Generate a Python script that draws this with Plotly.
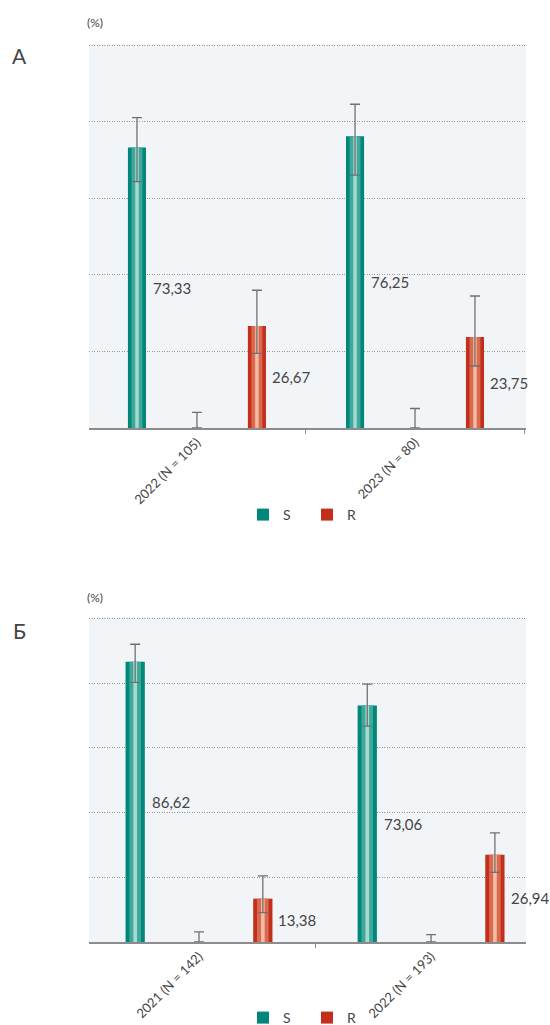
import plotly.graph_objects as go

# ---------------- data ----------------
cats_a = ["2022 (N = 105)", "2023 (N = 80)"]
s_a = [73.33, 76.25]
s_a_hi = [81.1, 84.6]
s_a_lo = [64.4, 66.1]
i_a = [0, 0]
i_a_hi = [4.1, 5.1]
r_a = [26.67, 23.75]
r_a_hi = [36.0, 34.5]
r_a_lo = [19.5, 16.2]

cats_b = ["2021 (N = 142)", "2022 (N = 193)"]
s_b = [86.62, 73.06]
s_b_hi = [92.0, 79.7]
s_b_lo = [80.2, 66.7]
i_b = [0, 0]
i_b_hi = [3.1, 2.3]
r_b = [13.38, 26.94]
r_b_hi = [20.4, 33.7]
r_b_lo = [9.1, 21.5]

series_names = ["S", "I", "R"]
y_ticks = [0, 20, 40, 60, 80, 100]

# ---------------- style ----------------
FONT = "Lato"
TXT = "#444444"
TEAL = ["#00877a", "#3ea89b", "#a6d7d0"]
RED = ["#c22f1b", "#d96a50", "#f1bca5"]
CLEAR = ["rgba(0,0,0,0)"] * 3
LAYER_W = [0.083, 0.05, 0.016]
BARGAP = 0.175
ERR_COLOR = "#707070"
Y_TOP = 100.35

fig = go.Figure()


def add_panel(cats, vals, his, los, xa, ya, legend):
    palettes = [TEAL, CLEAR, RED]
    for k, name in enumerate(series_names):
        v = vals[k]
        plus = [h - x for h, x in zip(his[k], v)]
        minus = [x - l for x, l in zip(v, los[k])]
        for j, w in enumerate(LAYER_W):
            last = j == len(LAYER_W) - 1
            fig.add_trace(go.Bar(
                x=cats, y=v, name=name, xaxis=xa, yaxis=ya,
                offsetgroup=name, width=w,
                marker=dict(color=palettes[k][j], line=dict(width=0)),
                showlegend=(j == 0 and name != "I"), legend=legend,
                hoverinfo="skip",
                error_y=dict(type="data", array=plus, arrayminus=minus,
                             visible=last, color=ERR_COLOR,
                             thickness=1.3, width=5),
            ))


add_panel(cats_a, [s_a, i_a, r_a],
          [s_a_hi, i_a_hi, r_a_hi], [s_a_lo, i_a, r_a_lo],
          "x", "y", "legend")
add_panel(cats_b, [s_b, i_b, r_b],
          [s_b_hi, i_b_hi, r_b_hi], [s_b_lo, i_b, r_b_lo],
          "x2", "y2", "legend2")

slot = (1 - BARGAP) / 3
annotations = []


def fmt(v):
    return f"{v:.2f}".replace(".", ",")


for cats, svals, rvals, xr, yr in [(cats_a, s_a, r_a, "x", "y"),
                                   (cats_b, s_b, r_b, "x2", "y2")]:
    for i in range(len(cats)):
        for vals, k, sh in [(svals, 0, 5), (rvals, 2, 4)]:
            annotations.append(dict(
                x=i + (k - 1) * slot + LAYER_W[0] / 2, y=vals[i] / 2,
                xref=xr, yref=yr, text=fmt(vals[i]), showarrow=False,
                xanchor="left", yanchor="middle", xshift=sh,
                font=dict(family=FONT, size=15, color=TXT)))

L, R, T, B = 89, 24, 44, 83
W, H = 550, 1025
pw, ph = W - L - R, H - T - B

for letter, ly, uy in [("А", 55, 22.7), ("Б", 630, 597)]:
    annotations.append(dict(x=(19 - L) / pw, y=(H - B - ly) / ph,
                            xref="paper", yref="paper", text=letter,
                            showarrow=False, xanchor="center",
                            yanchor="middle",
                            font=dict(family=FONT, size=21, color=TXT)))
    annotations.append(dict(x=(95 - L) / pw, y=(H - B - uy) / ph,
                            xref="paper", yref="paper", text="(%)",
                            showarrow=False, xanchor="center",
                            yanchor="middle",
                            font=dict(family=FONT, size=12, color=TXT)))

xaxis_common = dict(
    type="category", showline=True, linecolor="#8c8c8c", linewidth=1.5,
    ticks="outside", tickson="boundaries", ticklen=4, tickcolor="#8c8c8c",
    tickangle=-45, tickfont=dict(family=FONT, size=13, color=TXT),
    showgrid=False, zeroline=False, fixedrange=True, automargin=False)
yaxis_common = dict(
    range=[0, Y_TOP], tickvals=y_ticks, showticklabels=False,
    showgrid=True, gridcolor="#9a9a9a", griddash="1px,1.5px", gridwidth=1,
    zeroline=False, showline=False, fixedrange=True, automargin=False)

legend_common = dict(orientation="h", xanchor="left", yanchor="middle",
                     font=dict(family=FONT, size=14, color=TXT),
                     bgcolor="rgba(0,0,0,0)", entrywidth=19)

fig.update_layout(
    width=W, height=H,
    margin=dict(l=L, r=R, t=T, b=B, pad=0, autoexpand=False),
    paper_bgcolor="white", plot_bgcolor="#f2f5f8",
    barmode="group", bargap=BARGAP, bargroupgap=0,
    font=dict(family=FONT, color=TXT),
    xaxis=dict(xaxis_common, anchor="y", domain=[0, 1],
               range=[-0.495, 1.509]),
    yaxis=dict(yaxis_common, anchor="x", domain=[(H - B - 428) / ph, 1]),
    xaxis2=dict(xaxis_common, anchor="y2", domain=[0, 1],
                range=[-0.474, 1.409]),
    yaxis2=dict(yaxis_common, anchor="x2",
                domain=[0, (H - B - 617.2) / ph]),
    legend=dict(legend_common, x=(243 - L) / pw, y=(H - B - 515) / ph),
    legend2=dict(legend_common, x=(243 - L) / pw, y=(H - B - 1018) / ph),
    annotations=annotations,
    showlegend=True,
)

fig.write_html("out.html")
